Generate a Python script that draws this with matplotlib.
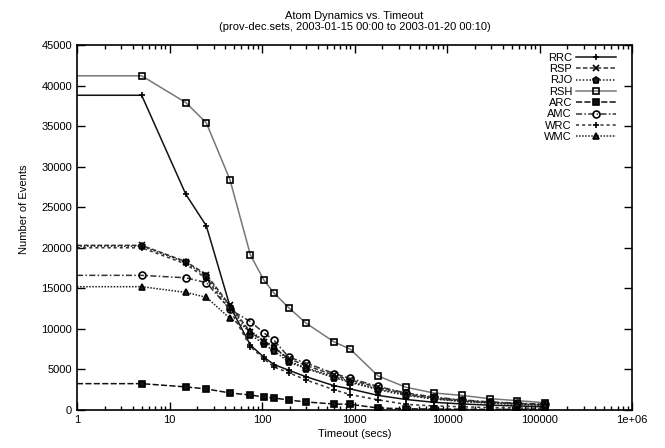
import matplotlib
matplotlib.use("Agg")
import matplotlib.pyplot as plt
from matplotlib.ticker import LogLocator, FixedLocator, NullFormatter

plt.rcParams["font.family"] = ["Liberation Sans", "DejaVu Sans"]

timeouts = [1, 5, 15, 25, 45, 75, 105, 135, 195, 300, 600, 900, 1800, 3600, 7200, 14400, 28800, 57600, 115200]

rrc = [38800, 38800, 26600, 22700, 12800, 8000, 6500, 5600, 4900, 4100, 3000, 2600, 1800, 1300, 950, 750, 600, 500, 400]
rsp = [20300, 20300, 18300, 16700, 12900, 9600, 8400, 7700, 6300, 5500, 4300, 3700, 2800, 2000, 1500, 1200, 950, 800, 650]
rjo = [20200, 20200, 18200, 16500, 12700, 9300, 8100, 7300, 5900, 5100, 4000, 3400, 2500, 1800, 1350, 1050, 850, 700, 550]
rsh = [41200, 41200, 37900, 35400, 28400, 19100, 16000, 14400, 12600, 10700, 8400, 7500, 4200, 2800, 2100, 1800, 1400, 1150, 900]
arc = [3250, 3250, 2850, 2600, 2100, 1850, 1600, 1480, 1230, 990, 740, 700, 250, 150, 120, 100, 80, 70, 60]
amc = [16600, 16600, 16300, 15700, 12400, 10900, 9500, 8600, 6500, 5800, 4500, 3900, 2900, 2100, 1600, 1250, 1000, 850, 700]
wrc = [20000, 20000, 18000, 16200, 12300, 7800, 6300, 5300, 4600, 3700, 2500, 1900, 1250, 700, 500, 400, 300, 250, 200]
wmc = [15200, 15200, 14500, 13900, 11300, 9800, 8500, 7900, 6000, 5200, 4100, 3500, 2600, 1900, 1400, 1100, 900, 750, 600]

series = [
    ("RRC", rrc, "-", "+", "#111111", "none"),
    ("RSP", rsp, (0, (3, 1.5)), "x", "#333333", "none"),
    ("RJO", rjo, (0, (1, 1.2)), "p", "#222222", "#222222"),
    ("RSH", rsh, "-", "s", "#777777", "none"),
    ("ARC", arc, (0, (4, 1.5)), "s", "#111111", "#111111"),
    ("AMC", amc, (0, (4, 1.5, 1, 1.5)), "o", "#333333", "none"),
    ("WRC", wrc, (0, (2, 2)), "+", "#333333", "none"),
    ("WMC", wmc, (0, (1, 1)), "^", "#222222", "#222222"),
]

fig = plt.figure(figsize=(6.65, 4.48), dpi=100)
ax = fig.add_axes([0.1158, 0.0848, 0.8346, 0.8148])

for name, vals, ls, mk, col, fc in series:
    ax.plot(timeouts, vals, linestyle=ls, marker=mk, color=col, markerfacecolor=fc,
            markeredgecolor="black", markersize=5, markeredgewidth=1.2, linewidth=1.1,
            markevery=slice(1, None), label=name)

ax.set_xscale("log")
ax.set_xlim(1, 1e6)
ax.set_ylim(0, 45000)
ax.xaxis.set_major_locator(FixedLocator([1, 10, 100, 1000, 10000, 100000, 1000000]))
ax.set_xticklabels(["1", "10", "100", "1000", "10000", "100000", "1e+06"])
ax.xaxis.set_minor_locator(LogLocator(base=10, subs=range(2, 10), numticks=20))
ax.xaxis.set_minor_formatter(NullFormatter())
ax.set_yticks(range(0, 45001, 5000))
ax.tick_params(which="both", direction="in", top=True, right=True, labelsize=8, width=1)
ax.tick_params(which="major", length=6)
ax.tick_params(which="minor", length=3)
for sp in ax.spines.values():
    sp.set_linewidth(1.2)

ax.set_xlabel("Timeout (secs)", fontsize=8, labelpad=3)
ax.set_ylabel("Number of Events", fontsize=8)
ax.yaxis.set_label_coords(-0.086, 0.55)
ax.set_title("Atom Dynamics vs. Timeout\n(prov-dec.sets, 2003-01-15 00:00 to 2003-01-20 00:10)",
             fontsize=8, linespacing=1.05, pad=11)

ax.legend(loc="upper right", bbox_to_anchor=(0.986, 1.0), markerfirst=False, frameon=False,
          fontsize=8, handlelength=3.6, labelspacing=0.12, handletextpad=0.4, borderaxespad=0.3)

fig.savefig("out.png", dpi=100)
